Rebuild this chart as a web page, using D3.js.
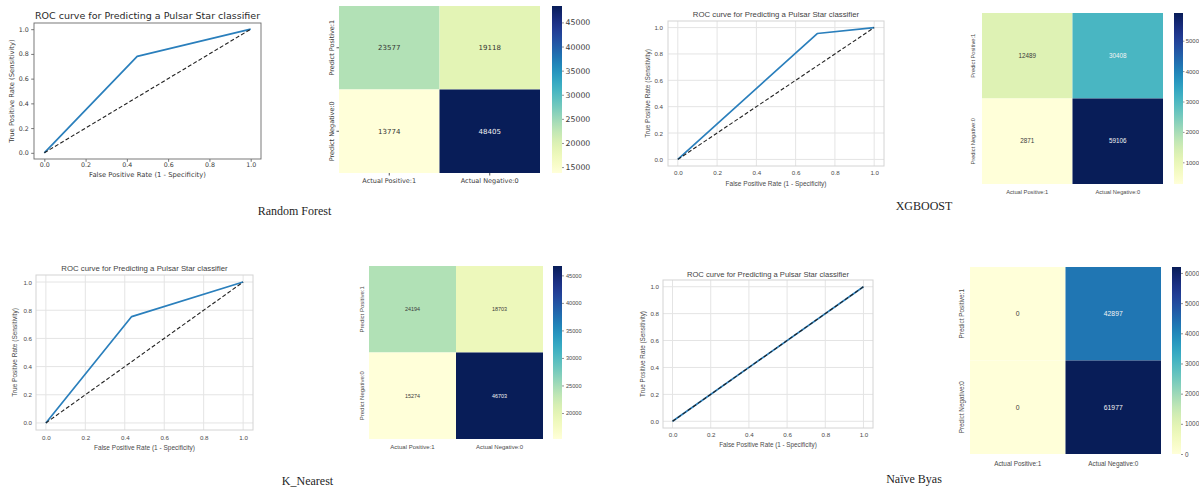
<!DOCTYPE html>
<html>
<head>
<meta charset="utf-8">
<script src="https://cdn.jsdelivr.net/npm/d3@7"></script>
<style>
  html, body { margin: 0; padding: 0; background: #ffffff; }
  svg { display: block; }
</style>
</head>
<body>
<svg id="fig" width="1199" height="489"></svg>
<script>
// ROC curve points per model (false positive rate, true positive rate)
const rfFpr = [0, 0.45, 1];
const rfTpr = [0, 0.78, 1];
const xgbFpr = [0, 0.71, 1];
const xgbTpr = [0, 0.955, 1];
const knnFpr = [0, 0.435, 1];
const knnTpr = [0, 0.755, 1];
const nbFpr = [0, 1];
const nbTpr = [0, 1];
const chanceLine = [0, 1];

// Confusion matrices: rows = prediction, columns = actual class
const rfMatrix = [[23577, 19118], [13774, 48405]];
const xgbMatrix = [[12489, 30408], [2871, 59106]];
const knnMatrix = [[24194, 18703], [15274, 46703]];
const nbMatrix = [[0, 42897], [0, 61977]];

const rowLabels = ["Predict Positive:1", "Predict Negative:0"];
const colLabels = ["Actual Positive:1", "Actual Negative:0"];
const modelNames = ["Random Forest", "XGBOOST", "K_Nearest", "Naïve Byas"];

const rocTitle = "ROC curve for Predicting a Pulsar Star classifier";
const rocXLabel = "False Positive Rate (1 - Specificity)";
const rocYLabel = "True Positive Rate (Sensitivity)";
const rocTicks = [0, 0.2, 0.4, 0.6, 0.8, 1.0];

// Colour bar ticks for each heatmap
const rfBarTicks = [15000, 20000, 25000, 30000, 35000, 40000, 45000];
const xgbBarTicks = [10000, 20000, 30000, 40000, 50000];
const knnBarTicks = [20000, 25000, 30000, 35000, 40000, 45000];
const nbBarTicks = [0, 10000, 20000, 30000, 40000, 50000, 60000];

const svg = d3.select("#fig");
svg.append("rect").attr("width", 1199).attr("height", 489).attr("fill", "#ffffff");

const DEJAVU = "'DejaVu Sans', sans-serif";
const ARIAL = "'Liberation Sans', Arial, sans-serif";
const SERIF = "'Liberation Serif', 'Times New Roman', serif";

function styleAxis(g, font, size, color) {
  g.attr("font-family", font).attr("font-size", size).attr("color", color);
  g.selectAll("text").attr("fill", color);
}

function drawRoc(c) {
  const g = svg.append("g");
  const x = d3.scaleLinear().domain([-0.05, 1.05]).range([c.box.x0, c.box.x1]);
  const y = d3.scaleLinear().domain([-0.05, 1.05]).range([c.box.y1, c.box.y0]);
  const w = c.box.x1 - c.box.x0, h = c.box.y1 - c.box.y0;

  if (!c.classic) {
    // light grid in the whitegrid style
    g.append("g").selectAll("line").data(rocTicks).join("line")
      .attr("x1", d => x(d)).attr("x2", d => x(d))
      .attr("y1", c.box.y0).attr("y2", c.box.y1)
      .attr("stroke", "#e4e4e4").attr("stroke-width", 1);
    g.append("g").selectAll("line").data(rocTicks).join("line")
      .attr("y1", d => y(d)).attr("y2", d => y(d))
      .attr("x1", c.box.x0).attr("x2", c.box.x1)
      .attr("stroke", "#e4e4e4").attr("stroke-width", 1);
  }

  const fmt = d3.format(".1f");
  const xa = g.append("g").attr("transform", `translate(0,${c.box.y1})`)
    .call(d3.axisBottom(x).tickValues(rocTicks).tickFormat(fmt)
      .tickSize(c.tick).tickPadding(c.xPad));
  const ya = g.append("g").attr("transform", `translate(${c.box.x0},0)`)
    .call(d3.axisLeft(y).tickValues(rocTicks).tickFormat(fmt)
      .tickSize(c.tick).tickPadding(c.yPad));
  [xa, ya].forEach(a => {
    a.select(".domain").remove();
    styleAxis(a, c.font, c.tickSize, c.textColor);
    a.selectAll("line").attr("stroke", c.classic ? "#555" : "none").attr("stroke-width", 0.8);
  });

  // frame
  g.append("rect").attr("x", c.box.x0).attr("y", c.box.y0)
    .attr("width", w).attr("height", h).attr("fill", "none")
    .attr("stroke", c.classic ? "#6a6a6a" : "#d4d4d4").attr("stroke-width", c.classic ? 0.9 : 1);

  const line = d3.line().x(d => x(d[0])).y(d => y(d[1]));
  g.append("path").datum(d3.zip(c.fpr, c.tpr)).attr("d", line)
    .attr("fill", "none").attr("stroke", "#2a7fbc").attr("stroke-width", 1.7)
    .attr("stroke-linejoin", "round");
  g.append("path").datum(d3.zip(chanceLine, chanceLine)).attr("d", line)
    .attr("fill", "none").attr("stroke", "#222").attr("stroke-width", 1.1)
    .attr("stroke-dasharray", "4,2.2");

  g.append("text").attr("x", (c.box.x0 + c.box.x1) / 2).attr("y", c.titleY)
    .attr("text-anchor", "middle").attr("font-family", c.font)
    .attr("font-size", c.titleSize).attr("fill", c.titleColor).text(rocTitle);
  g.append("text").attr("x", (c.box.x0 + c.box.x1) / 2).attr("y", c.xLabelY)
    .attr("text-anchor", "middle").attr("font-family", c.font)
    .attr("font-size", c.labelSize).attr("fill", c.textColor).text(rocXLabel);
  g.append("text")
    .attr("transform", `translate(${c.yLabelX},${(c.box.y0 + c.box.y1) / 2}) rotate(-90)`)
    .attr("text-anchor", "middle").attr("font-family", c.font)
    .attr("font-size", c.labelSize).attr("fill", c.textColor).text(rocYLabel);
}

function luminance(col) {
  const r = d3.rgb(col);
  const f = v => { v /= 255; return v <= 0.03928 ? v / 12.92 : Math.pow((v + 0.055) / 1.055, 2.4); };
  return 0.2126 * f(r.r) + 0.7152 * f(r.g) + 0.0722 * f(r.b);
}

let gradId = 0;
function drawHeat(c) {
  const g = svg.append("g");
  const flat = c.matrix.flat();
  const vmin = d3.min(flat), vmax = d3.max(flat);
  const color = d3.scaleSequential(d3.interpolateYlGnBu).domain([vmin, vmax]);
  const x = d3.scaleBand().domain(colLabels).range([c.box.x0, c.box.x1]);
  const y = d3.scaleBand().domain(rowLabels).range([c.box.y0, c.box.y1]);

  const cells = [];
  c.matrix.forEach((row, i) => row.forEach((v, j) => cells.push({ r: rowLabels[i], c: colLabels[j], v })));

  g.selectAll("rect.cell").data(cells).join("rect").attr("class", "cell")
    .attr("x", d => x(d.c)).attr("y", d => y(d.r))
    .attr("width", x.bandwidth()).attr("height", y.bandwidth())
    .attr("fill", d => color(d.v));

  g.selectAll("text.ann").data(cells).join("text").attr("class", "ann")
    .attr("x", d => x(d.c) + x.bandwidth() / 2).attr("y", d => y(d.r) + y.bandwidth() / 2)
    .attr("dy", "0.35em").attr("text-anchor", "middle")
    .attr("font-family", c.font).attr("font-size", c.annSize)
    .attr("fill", d => luminance(color(d.v)) > 0.408 ? c.darkText : "#f4f4f4")
    .text(d => d.v);

  // category labels
  const xa = g.append("g").attr("transform", `translate(0,${c.box.y1})`)
    .call(d3.axisBottom(x).tickSize(c.tick).tickPadding(c.xPad));
  xa.select(".domain").remove();
  styleAxis(xa, c.font, c.labelSize, c.textColor);
  xa.selectAll("line").attr("stroke", c.classic ? "#555" : "none");

  const ya = g.append("g").attr("transform", `translate(${c.box.x0},0)`)
    .call(d3.axisLeft(y).tickSize(c.tick));
  ya.select(".domain").remove();
  styleAxis(ya, c.font, c.labelSize, c.textColor);
  ya.selectAll("line").attr("stroke", c.classic ? "#555" : "none");
  ya.selectAll("text").attr("x", null).attr("dy", null)
    .attr("text-anchor", "middle")
    .attr("transform", `translate(${-c.yOff},0) rotate(-90)`);

  // colour bar
  const id = "grad" + (gradId++);
  const grad = svg.append("defs").append("linearGradient").attr("id", id)
    .attr("x1", 0).attr("y1", 1).attr("x2", 0).attr("y2", 0);
  d3.range(0, 1.0001, 0.05).forEach(t => grad.append("stop")
    .attr("offset", t).attr("stop-color", d3.interpolateYlGnBu(t)));
  g.append("rect").attr("x", c.bar.x0).attr("y", c.box.y0)
    .attr("width", c.bar.x1 - c.bar.x0).attr("height", c.box.y1 - c.box.y0)
    .attr("fill", `url(#${id})`);
  const cb = d3.scaleLinear().domain([vmin, vmax]).range([c.box.y1, c.box.y0]);
  const ca = g.append("g").attr("transform", `translate(${c.bar.x1},0)`)
    .call(d3.axisRight(cb).tickValues(c.barTicks).tickFormat(d3.format("d"))
      .tickSize(c.barTick).tickPadding(c.barPad));
  ca.select(".domain").remove();
  styleAxis(ca, c.font, c.barSize, c.textColor);
  ca.selectAll("line").attr("stroke", "#666").attr("stroke-width", 0.7);
}

// Random Forest
drawRoc({ box: { x0: 34, x1: 261, y0: 23, y1: 159 }, fpr: rfFpr, tpr: rfTpr, classic: true,
  font: DEJAVU, titleSize: 9.5, tickSize: 6.3, labelSize: 6.8, tick: 2.8, xPad: 1, yPad: 2.5,
  titleY: 18.5, xLabelY: 176.5, yLabelX: 14, textColor: "#3a3a3a", titleColor: "#2a2a2a" });
drawHeat({ matrix: rfMatrix, box: { x0: 339, x1: 540, y0: 6, y1: 173 }, bar: { x0: 552, x1: 562 },
  barTicks: rfBarTicks, classic: true, font: DEJAVU, annSize: 7, labelSize: 6.5, barSize: 7.8,
  tick: 2.5, xPad: 2.5, yOff: 5.5, barTick: 2, barPad: 1.5, textColor: "#3a3a3a", darkText: "#333" });

// XGBoost
drawRoc({ box: { x0: 668, x1: 884, y0: 21, y1: 166 }, fpr: xgbFpr, tpr: xgbTpr, classic: false,
  font: ARIAL, titleSize: 7.8, tickSize: 6.2, labelSize: 6.5, tick: 0, xPad: 5, yPad: 5,
  titleY: 16.5, xLabelY: 185.5, yLabelX: 650, textColor: "#4a4a4a", titleColor: "#444" });
drawHeat({ matrix: xgbMatrix, box: { x0: 982, x1: 1163, y0: 13, y1: 184 }, bar: { x0: 1174, x1: 1183 },
  barTicks: xgbBarTicks, classic: false, font: ARIAL, annSize: 6.3, labelSize: 5.7, barSize: 6,
  tick: 0, xPad: 6, yOff: 7, barTick: 1.5, barPad: 1.2, textColor: "#4a4a4a", darkText: "#3a3a3a" });

// K nearest neighbours
drawRoc({ box: { x0: 36, x1: 253, y0: 275, y1: 430 }, fpr: knnFpr, tpr: knnTpr, classic: false,
  font: ARIAL, titleSize: 7.8, tickSize: 6.2, labelSize: 6.5, tick: 0, xPad: 6, yPad: 4,
  titleY: 270.5, xLabelY: 449.5, yLabelX: 17, textColor: "#4a4a4a", titleColor: "#444" });
drawHeat({ matrix: knnMatrix, box: { x0: 369, x1: 543, y0: 266, y1: 439 }, bar: { x0: 553, x1: 562 },
  barTicks: knnBarTicks, classic: false, font: ARIAL, annSize: 5.4, labelSize: 6, barSize: 5.6,
  tick: 0, xPad: 6, yOff: 5.5, barTick: 2, barPad: 2, textColor: "#4a4a4a", darkText: "#3a3a3a" });

// Naive Bayes
drawRoc({ box: { x0: 663, x1: 873, y0: 280, y1: 428 }, fpr: nbFpr, tpr: nbTpr, classic: false,
  font: ARIAL, titleSize: 7.6, tickSize: 6.2, labelSize: 6.3, tick: 0, xPad: 5, yPad: 4,
  titleY: 276.5, xLabelY: 446.5, yLabelX: 645, textColor: "#4a4a4a", titleColor: "#444" });
drawHeat({ matrix: nbMatrix, box: { x0: 970, x1: 1161, y0: 267, y1: 454 }, bar: { x0: 1172, x1: 1181 },
  barTicks: nbBarTicks, classic: false, font: ARIAL, annSize: 6.8, labelSize: 6.4, barSize: 6.4,
  tick: 0, xPad: 7, yOff: 6, barTick: 2, barPad: 2, textColor: "#4a4a4a", darkText: "#3a3a3a" });

// Model captions
const captions = [
  { name: modelNames[0], x: 294.5, y: 215 },
  { name: modelNames[1], x: 924, y: 210 },
  { name: modelNames[2], x: 307.5, y: 485 },
  { name: modelNames[3], x: 914, y: 483 }
];
svg.append("g").selectAll("text").data(captions).join("text")
  .attr("x", d => d.x).attr("y", d => d.y).attr("text-anchor", "middle")
  .attr("font-family", SERIF).attr("font-size", 12).attr("fill", "#1e1e1e")
  .text(d => d.name);
</script>
</body>
</html>
